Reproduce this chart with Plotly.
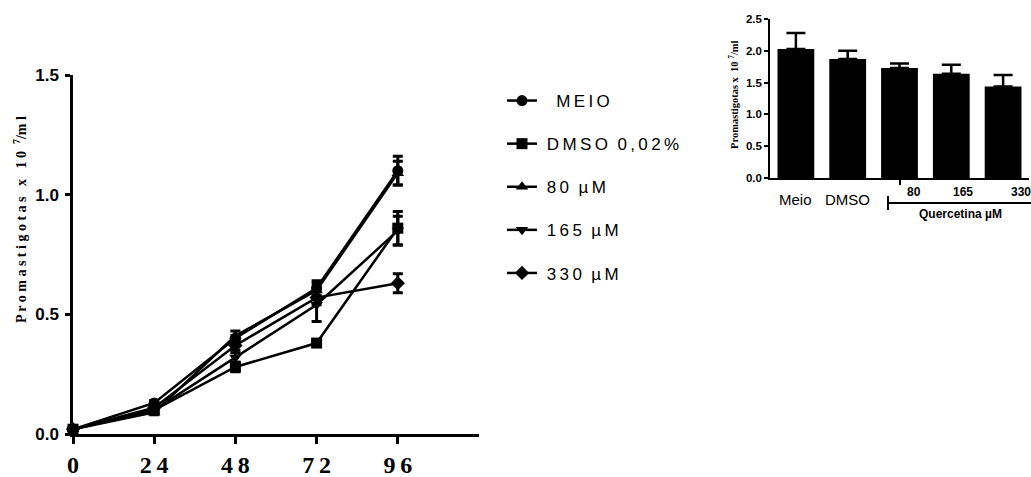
import plotly.graph_objects as go

# Growth curve (hours vs promastigotes x 10^7/ml)
hours = [0, 24, 48, 72, 96]
series_names = ["MEIO", "DMSO 0,02%", "80 µM", "165 µM", "330 µM"]
symbols = ["circle", "square", "triangle-up", "triangle-down", "diamond"]

meio = [0.02, 0.13, 0.40, 0.61, 1.10]
dmso = [0.02, 0.10, 0.28, 0.38, 0.86]
q80 = [0.02, 0.09, 0.41, 0.60, 1.09]
q165 = [0.02, 0.10, 0.32, 0.54, 0.85]
q330 = [0.02, 0.11, 0.37, 0.57, 0.63]

meio_err = [0.0, 0.01, 0.01, 0.03, 0.06]
dmso_err = [0.0, 0.01, 0.02, 0.01, 0.07]
q80_err = [0.0, 0.01, 0.02, 0.03, 0.05]
q165_err = [0.0, 0.01, 0.02, 0.07, 0.06]
q330_err = [0.0, 0.01, 0.02, 0.03, 0.04]

# Bar inset (final counts)
bar_categories = ["Meio", "DMSO", "80", "165", "330"]
bar_values = [2.03, 1.87, 1.73, 1.64, 1.44]
bar_errors = [0.25, 0.13, 0.07, 0.14, 0.18]

W, H = 1031, 477
THIN = "\u2009"


def px_x(p):
    return p / W


def px_y(p):
    return 1 - p / H


def spaced(text):
    """Letter-spaced legend label: thin spaces between glyphs."""
    words = text.split(" ")
    return "  ".join(THIN.join(list(w)) for w in words)


fig = go.Figure()

curves = [meio, dmso, q80, q165, q330]
errors = [meio_err, dmso_err, q80_err, q165_err, q330_err]
for i, (name, sym, ys, es) in enumerate(zip(series_names, symbols, curves, errors)):
    label = ("   " if i == 0 else " ") + spaced(name)
    fig.add_trace(go.Scatter(
        x=hours, y=ys, name=label, legendgroup=name,
        mode="lines+markers",
        line=dict(color="black", width=2.5),
        marker=dict(symbol=sym, size=11, color="black"),
        error_y=dict(type="data", array=es, visible=True, color="black",
                     thickness=3, width=5),
        cliponaxis=False,
        xaxis="x", yaxis="y",
    ))

fig.add_trace(go.Bar(
    x=list(range(len(bar_categories))), y=bar_values,
    width=0.71, marker=dict(color="black", line=dict(width=0)),
    error_y=dict(type="data", array=bar_errors, arrayminus=[0] * len(bar_values),
                 visible=True, color="black", thickness=2.5, width=9.5),
    showlegend=False, xaxis="x2", yaxis="y2",
))

serif = "Liberation Serif"
sans = "Liberation Sans"

fig.update_layout(
    width=W, height=H,
    margin=dict(l=0, r=0, t=0, b=0),
    paper_bgcolor="white", plot_bgcolor="white",
    showlegend=True,
    legend=dict(
        x=px_x(502), y=px_y(83), xanchor="left", yanchor="top",
        font=dict(family=sans, size=17, color="black"),
        tracegroupgap=18, bgcolor="rgba(0,0,0,0)",
        itemwidth=30,
    ),
    xaxis=dict(
        domain=[px_x(73), px_x(479)], range=[0, 120],
        tickvals=hours, ticktext=["0", "2" + THIN + "4", "4" + THIN + "8",
                                  "7" + THIN + "2", "9" + THIN + "6"],
        tickfont=dict(family=serif, size=24, color="black", weight="bold"),
        ticklabelstandoff=0, automargin=False,
        showline=True, linecolor="black", linewidth=2.5,
        ticks="outside", ticklen=7, tickwidth=2.5, tickcolor="black",
        showgrid=False, zeroline=False, anchor="y",
    ),
    yaxis=dict(
        domain=[px_y(434), px_y(75)], range=[0, 1.5],
        tickvals=[0, 0.5, 1.0, 1.5],
        ticktext=["0.0", "0.5", "1.0", "1.5"],
        tickfont=dict(family=sans, size=17, color="black", weight="bold"),
        ticklabelstandoff=3, automargin=False,
        showline=True, linecolor="black", linewidth=2.5,
        ticks="outside", ticklen=5, tickwidth=2.5, tickcolor="black",
        showgrid=False, zeroline=False, anchor="x",
    ),
    xaxis2=dict(
        domain=[px_x(770), px_x(1029)], range=[-0.5, 4.5],
        tickvals=[2], showticklabels=False, automargin=False,
        showline=True, linecolor="black", linewidth=1.5,
        ticks="outside", ticklen=5, tickwidth=1.5, tickcolor="black",
        showgrid=False, zeroline=False, anchor="y2",
    ),
    yaxis2=dict(
        domain=[px_y(178), px_y(19)], range=[0, 2.5],
        tickvals=[0, 0.5, 1.0, 1.5, 2.0, 2.5],
        ticktext=["0.0", "0.5", "1.0", "1.5", "2.0", "2.5"],
        tickfont=dict(family=sans, size=11.5, color="black", weight="bold"),
        automargin=False,
        showline=True, linecolor="black", linewidth=1.5,
        ticks="outside", ticklen=4, tickwidth=1.5, tickcolor="black",
        showgrid=False, zeroline=False, anchor="x2",
    ),
)

annotations = [
    # main y-axis title
    dict(text="P r o m a s t i g o t a s   x   1 0  <sup>7</sup>/m l",
         x=px_x(20), y=px_y(220), xref="paper", yref="paper",
         xanchor="center", yanchor="middle",
         textangle=-90, showarrow=False,
         font=dict(family=serif, size=14, color="black", weight="bold")),
    # inset y-axis title
    dict(text="Promastigotas x  10 <sup>7</sup>/ml",
         x=px_x(733), y=px_y(95), xref="paper", yref="paper",
         xanchor="center", yanchor="middle",
         textangle=-90, showarrow=False,
         font=dict(family=serif, size=10.5, color="black", weight="bold")),
    dict(text="Quercetina µM", x=px_x(960), y=px_y(214), xref="paper", yref="paper",
         xanchor="center", yanchor="middle",
         showarrow=False, font=dict(family=sans, size=12, color="black", weight="bold")),
]
for i, cat in enumerate(bar_categories):
    if i < 2:
        annotations.append(dict(text=cat, x=i, y=px_y(199), xref="x2", yref="paper",
                                yanchor="middle", showarrow=False,
                                font=dict(family=sans, size=15, color="black")))
    else:
        annotations.append(dict(text=cat, x=i, y=px_y(192), xref="x2", yref="paper",
                                yanchor="middle",
                                xshift=[0, 0, 14, 12, 18][i], showarrow=False,
                                font=dict(family=sans, size=12, color="black", weight="bold")))
fig.update_layout(annotations=annotations)

# bracket under the quercetin concentrations
fig.add_shape(type="line", xref="paper", yref="paper",
              x0=px_x(888), x1=px_x(1031), y0=px_y(203), y1=px_y(203),
              line=dict(color="black", width=2))
fig.add_shape(type="line", xref="paper", yref="paper",
              x0=px_x(888), x1=px_x(888), y0=px_y(196), y1=px_y(210),
              line=dict(color="black", width=2))

fig.write_html("out.html")
